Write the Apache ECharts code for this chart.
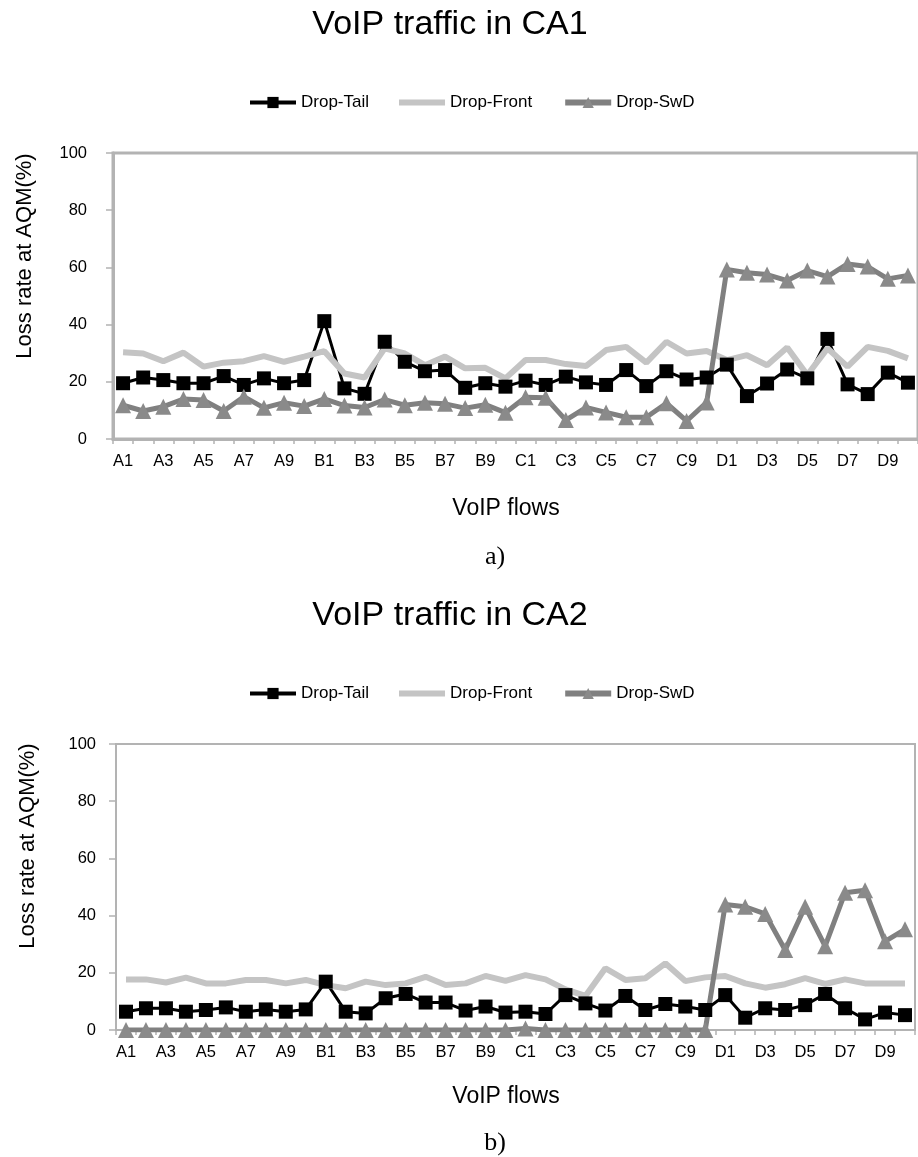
<!DOCTYPE html>
<html>
<head>
<meta charset="utf-8">
<script src="https://cdn.jsdelivr.net/npm/echarts@6/dist/echarts.min.js"></script>
<style>html,body{margin:0;padding:0;background:#fff;}#c{width:918px;height:1157px;}</style>
</head>
<body>
<div id="c"></div>
<script>
var categories = [];
['A','B','C','D'].forEach(function(g){for(var i=1;i<=10;i++)categories.push(g+i);});

var ca1DropTail  = [19.5,21.5,20.6,19.5,19.5,22,18.9,21.2,19.5,20.6, 41.2,17.7,15.8,34,27,23.7,24.1,17.9,19.5,18.3, 20.4,18.9,21.8,19.8,18.9,24.1,18.5,23.7,20.8,21.5, 26,15,19.4,24.3,21.2,35,19.1,15.7,23.2,19.7];
var ca1DropFront = [30.3,29.9,27.2,30.2,25.3,26.7,27.2,29,27,28.8, 30.7,22.9,21.5,31.7,29.9,25.8,28.8,24.7,24.9,21.2, 27.6,27.6,26.2,25.5,31.1,32.2,26.7,34,29.9,30.8, 27.6,29.3,25.8,32,22.4,31.7,25.3,32.2,30.8,28.2];
var ca1DropSwD   = [11.8,9.8,11.3,14,13.6,9.8,14.8,10.9,12.7,11.5, 14,11.7,11,13.8,11.8,12.7,12.3,10.8,12,9.2, 14.6,14.4,6.6,11,9.3,7.6,7.6,12.5,6.3,12.8, 59.3,58.1,57.5,55.4,58.9,56.8,61.2,60.3,56,57.2];

var ca2DropTail  = [6.4,7.6,7.6,6.4,7,7.9,6.4,7.2,6.4,7.2, 16.9,6.4,5.8,11.1,12.6,9.6,9.6,6.8,8.2,6.1, 6.4,5.6,12.2,9.3,6.8,11.9,7,9.1,8.2,7, 12.2,4.3,7.6,7,8.7,12.6,7.6,3.7,6.1,5.2];
var ca2DropFront = [17.7,17.7,16.6,18.3,16.3,16.3,17.5,17.5,16.3,17.5, 15.7,14.6,16.9,15.7,16.3,18.6,15.7,16.3,18.9,17.2, 19.2,17.7,14.2,11.9,21.6,17.5,18.1,23.3,17.1,18.4, 18.9,16.3,14.8,16,18.1,16.1,17.7,16.3,16.3,16.3];
var ca2DropSwD   = [0,0,0,0,0,0,0,0,0,0, 0,0,0,0,0,0,0,0,0,0, 0.5,0,0,0,0,0,0,0,0,0, 43.9,43.1,40.6,28,43.1,29.3,48,48.9,31,35.2];

var yTicks = {min:0, max:100, interval:20};
var seriesNames = ['Drop-Tail','Drop-Front','Drop-SwD'];

var FONT = '"Liberation Sans", Arial, sans-serif';
var SERIF = '"Liberation Serif", "Times New Roman", serif';
var AXIS_GREY = '#b3b3b3';

function makeAxes(idx, lw, yMargin){
  return {
    x: {
      type:'category', gridIndex:idx, data:categories, boundaryGap:true,
      axisLine:{show:true, lineStyle:{color:AXIS_GREY, width:lw}},
      axisTick:{show:true, interval:0, length:5, lineStyle:{color:AXIS_GREY, width:1.5}},
      axisLabel:{interval:1, color:'#000', fontFamily:FONT, fontSize:16.5, margin:14},
      splitLine:{show:false}
    },
    y: {
      type:'value', gridIndex:idx, min:yTicks.min, max:yTicks.max, interval:yTicks.interval,
      axisLine:{show:true, lineStyle:{color:AXIS_GREY, width:lw}},
      axisTick:{show:true, length:7, lineStyle:{color:AXIS_GREY, width:1.5}},
      axisLabel:{color:'#000', fontFamily:FONT, fontSize:16.5, margin:yMargin},
      splitLine:{show:false}
    }
  };
}
function makeSeries(idx, tail, front, swd){
  return [
    {name:seriesNames[0], type:'line', xAxisIndex:idx, yAxisIndex:idx, data:tail,
     symbol:'rect', symbolSize:14, showSymbol:true, showAllSymbol:true,
     lineStyle:{color:'#000', width:3}, itemStyle:{color:'#000'}, animation:false},
    {name:seriesNames[1], type:'line', xAxisIndex:idx, yAxisIndex:idx, data:front,
     symbol:'none', lineStyle:{color:'#c4c4c4', width:6}, itemStyle:{color:'#c4c4c4'}, animation:false},
    {name:seriesNames[2], type:'line', xAxisIndex:idx, yAxisIndex:idx, data:swd,
     symbol:'triangle', symbolSize:16, showSymbol:true, showAllSymbol:true,
     lineStyle:{color:'#808080', width:5}, itemStyle:{color:'#8a8a8a'}, animation:false}
  ];
}
var a1 = makeAxes(0, 3, 26), a2 = makeAxes(1, 2, 20);

var legendData = [
  {name:'Drop-Tail', lineStyle:{width:4, color:'#000'}},
  {name:'Drop-Front', icon:'path://M0,0 L46,0 L46,6 L0,6 Z', itemStyle:{color:'#c4c4c4'}},
  {name:'Drop-SwD', lineStyle:{width:6, color:'#808080'}}
];
var legendBase = {
  data:legendData, itemWidth:46, itemHeight:14, itemGap:30,
  textStyle:{fontFamily:FONT, fontSize:17, color:'#000'}, selectedMode:false
};

function txt(x,y,s,size,opts){
  return {type:'text', x:x, y:y, style:Object.assign({text:s, fontSize:size, fontFamily:FONT, fill:'#000', textAlign:'center', textVerticalAlign:'middle'}, opts||{})};
}
function vtxt(x,y,s,size){
  return {type:'text', x:x, y:y, rotation:Math.PI/2, style:{text:s, fontSize:size, fontFamily:FONT, fill:'#000', textAlign:'center', textVerticalAlign:'middle'}};
}

var option = {
  animation:false,
  grid:[
    {left:113, top:153, width:813, height:286, show:true, borderColor:AXIS_GREY, borderWidth:3, backgroundColor:'transparent'},
    {left:116, top:744, width:799, height:286, show:true, borderColor:AXIS_GREY, borderWidth:2, backgroundColor:'transparent'}
  ],
  xAxis:[a1.x, a2.x],
  yAxis:[a1.y, a2.y],
  legend:[
    Object.assign({left:243, top:89}, legendBase),
    Object.assign({left:243, top:680}, legendBase)
  ],
  series: makeSeries(0, ca1DropTail, ca1DropFront, ca1DropSwD).concat(makeSeries(1, ca2DropTail, ca2DropFront, ca2DropSwD)),
  graphic:[
    txt(450, 25, 'VoIP traffic in CA1', 34),
    txt(506, 509, 'VoIP flows', 23),
    txt(495, 557, 'a)', 26, {fontFamily:SERIF}),
    vtxt(25, 256, 'Loss rate at AQM(%)', 22),
    txt(450, 616, 'VoIP traffic in CA2', 34),
    txt(506, 1097, 'VoIP flows', 23),
    txt(495, 1143, 'b)', 26, {fontFamily:SERIF}),
    vtxt(28, 846, 'Loss rate at AQM(%)', 22)
  ]
};
var chart = echarts.init(document.getElementById('c'), null, {renderer:'canvas', width:918, height:1157});
chart.setOption(option);
</script>
</body>
</html>
